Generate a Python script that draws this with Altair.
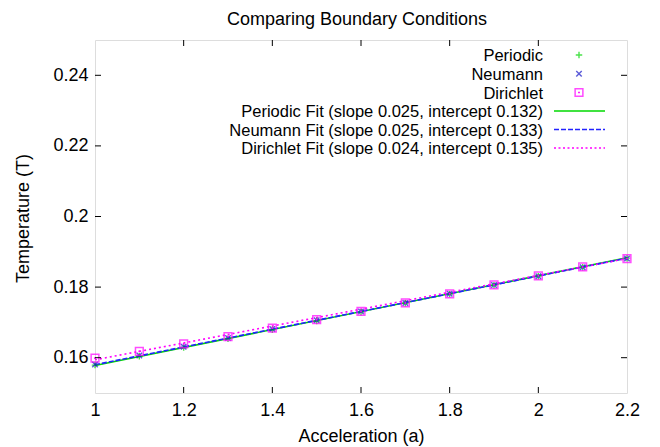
import altair as alt
import pandas as pd

FONT = "Liberation Sans"

# ---- data ----
accel = [1.0, 1.1, 1.2, 1.3, 1.4, 1.5, 1.6, 1.7, 1.8, 1.9, 2.0, 2.1, 2.2]
periodic = [0.1579, 0.1604, 0.1629, 0.1654, 0.1679, 0.1704, 0.1729, 0.1754, 0.1780, 0.1805, 0.1831, 0.1856, 0.1882]
neumann = [0.1581, 0.1606, 0.1631, 0.1656, 0.1681, 0.1706, 0.1731, 0.1755, 0.1781, 0.1806, 0.1831, 0.1856, 0.1881]
dirichlet = [0.1599, 0.1618, 0.1639, 0.1660, 0.1684, 0.1708, 0.1731, 0.1755, 0.1781, 0.1806, 0.1832, 0.1857, 0.1881]

fit_x = [1.0, 2.2]
periodic_fit = [0.1578, 0.1883]
neumann_fit = [0.1580, 0.1882]
dirichlet_fit = [0.1594, 0.1881]

x_ticks = [1.0, 1.2, 1.4, 1.6, 1.8, 2.0, 2.2]
y_ticks = [0.16, 0.18, 0.20, 0.22, 0.24]

series_names = ["Periodic", "Neumann", "Dirichlet"]
fit_labels = [
    "Periodic Fit (slope 0.025, intercept 0.132)",
    "Neumann Fit (slope 0.025, intercept 0.133)",
    "Dirichlet Fit (slope 0.024, intercept 0.135)",
]
title_text = "Comparing Boundary Conditions"

GREEN = "#00d800"
BLUE = "#2222ff"
BLUE_PT = "#1515c8"
MAGENTA = "#ff00ff"

W, H = 532, 353

xscale = alt.Scale(domain=[1, 2.2], nice=False, zero=False)
yscale = alt.Scale(domain=[0.15, 0.25], nice=False, zero=False)

xaxis = alt.Axis(values=x_ticks, format="~g", title="Acceleration (a)", grid=False, ticks=False,
                 domain=False, labelFontSize=18, labelFont=FONT, labelColor="black", labelPadding=8,
                 labelFlush=False, labelOverlap=False, titleFontSize=18, titleFont=FONT,
                 titleFontWeight="normal", titleColor="black", titleBaseline="alphabetic", titleY=48.5)
yaxis = alt.Axis(values=y_ticks, format="~g", title="Temperature (T)", grid=False, ticks=False,
                 domain=False, labelFontSize=18, labelFont=FONT, labelColor="black", labelPadding=7,
                 labelFlush=False, labelOverlap=False, titleFontSize=18, titleFont=FONT,
                 titleFontWeight="normal", titleColor="black", titleBaseline="alphabetic",
                 titleX=-66.5, titleY=178, titleAngle=270)

pts = pd.DataFrame({"a": accel, "P": periodic, "N": neumann, "D": dirichlet})
fits = pd.DataFrame({"a": fit_x, "P": periodic_fit, "N": neumann_fit, "D": dirichlet_fit})

X = alt.X("a:Q", scale=xscale, axis=xaxis)

PLUS = "M-1,0L1,0M0,-1L0,1"
CROSS = "M-1,-1L1,1M-1,1L1,-1"

base_fit = alt.Chart(fits)
fit_p = base_fit.mark_line(color=GREEN, strokeWidth=1.6).encode(x=X, y=alt.Y("P:Q", scale=yscale, axis=yaxis))
fit_n = base_fit.mark_line(color=BLUE, strokeWidth=1.6, strokeDash=[5, 2]).encode(x="a:Q", y="N:Q")
fit_d = base_fit.mark_line(color=MAGENTA, strokeWidth=1.6, strokeDash=[2, 3]).encode(x="a:Q", y="D:Q")

base_pts = alt.Chart(pts)
pt_p = base_pts.mark_point(shape=PLUS, size=42, color=GREEN, strokeWidth=1.4, filled=False).encode(x="a:Q", y="P:Q")
pt_n = base_pts.mark_point(shape=CROSS, size=30, color=BLUE_PT, strokeWidth=1.4, filled=False).encode(x="a:Q", y="N:Q")
pt_d = base_pts.mark_point(shape="square", size=60, color=MAGENTA, strokeWidth=1.5, filled=False).encode(x="a:Q", y="D:Q")
pt_d2 = base_pts.mark_point(shape="square", size=3, color=MAGENTA, filled=True, opacity=1).encode(x="a:Q", y="D:Q")

# inward ticks on all four sides
xt = alt.Chart(pd.DataFrame({"t": x_ticks[1:-1]}))
yt = alt.Chart(pd.DataFrame({"t": y_ticks}))
tick_b = xt.mark_rule(color="black", strokeWidth=1).encode(x="t:Q", y=alt.value(H), y2=alt.value(H - 6))
tick_t = xt.mark_rule(color="black", strokeWidth=1).encode(x="t:Q", y=alt.value(0), y2=alt.value(6))
tick_l = yt.mark_rule(color="black", strokeWidth=1).encode(y="t:Q", x=alt.value(0), x2=alt.value(6))
tick_r = yt.mark_rule(color="black", strokeWidth=1).encode(y="t:Q", x=alt.value(W), x2=alt.value(W - 6))

one = alt.Chart(pd.DataFrame({"k": [0]}))

# chart title as text above the plot
title = one.mark_text(align="center", baseline="alphabetic", fontSize=18, font=FONT, color="black").encode(
    x=alt.value(W / 2 - 4), y=alt.value(-15.5), text=alt.value(title_text))

# gnuplot-style key (top right, inside)
TX = 448
SX = 484
LX1, LX2 = 459, 510
row_c = [15, 33.8, 52.5, 71, 89.5, 108]
key = []
all_labels = series_names + fit_labels
for i, lab in enumerate(all_labels):
    key.append(one.mark_text(align="right", baseline="middle", fontSize=16.5, font=FONT, color="black")
               .encode(x=alt.value(TX), y=alt.value(row_c[i] + 1), text=alt.value(lab)))
key.append(one.mark_point(shape=PLUS, size=42, color=GREEN, strokeWidth=1.4, filled=False)
           .encode(x=alt.value(SX), y=alt.value(row_c[0])))
key.append(one.mark_point(shape=CROSS, size=30, color=BLUE_PT, strokeWidth=1.4, filled=False)
           .encode(x=alt.value(SX), y=alt.value(row_c[1])))
key.append(one.mark_point(shape="square", size=60, color=MAGENTA, strokeWidth=1.5, filled=False)
           .encode(x=alt.value(SX), y=alt.value(row_c[2])))
key.append(one.mark_point(shape="square", size=3, color=MAGENTA, filled=True, opacity=1)
           .encode(x=alt.value(SX), y=alt.value(row_c[2])))
key.append(one.mark_rule(color=GREEN, strokeWidth=1.3)
           .encode(x=alt.value(LX1), x2=alt.value(LX2), y=alt.value(row_c[3])))
key.append(one.mark_rule(color=BLUE, strokeWidth=1.3, strokeDash=[5, 2])
           .encode(x=alt.value(LX1), x2=alt.value(LX2), y=alt.value(row_c[4])))
key.append(one.mark_rule(color=MAGENTA, strokeWidth=1.3, strokeDash=[2, 2.5])
           .encode(x=alt.value(LX1), x2=alt.value(LX2), y=alt.value(row_c[5])))

chart = alt.layer(
    fit_p, fit_n, fit_d, pt_p, pt_n, pt_d, pt_d2,
    tick_b, tick_t, tick_l, tick_r, title, *key
).properties(
    width=W, height=H,
    autosize=alt.AutoSizeParams(type="none"),
    padding={"left": 87, "top": 32, "right": 20, "bottom": 54},
).configure_view(
    stroke="black", strokeWidth=1.5
).configure(background="white")

chart.save("out.html", embed_options={"renderer": "svg", "actions": False})
